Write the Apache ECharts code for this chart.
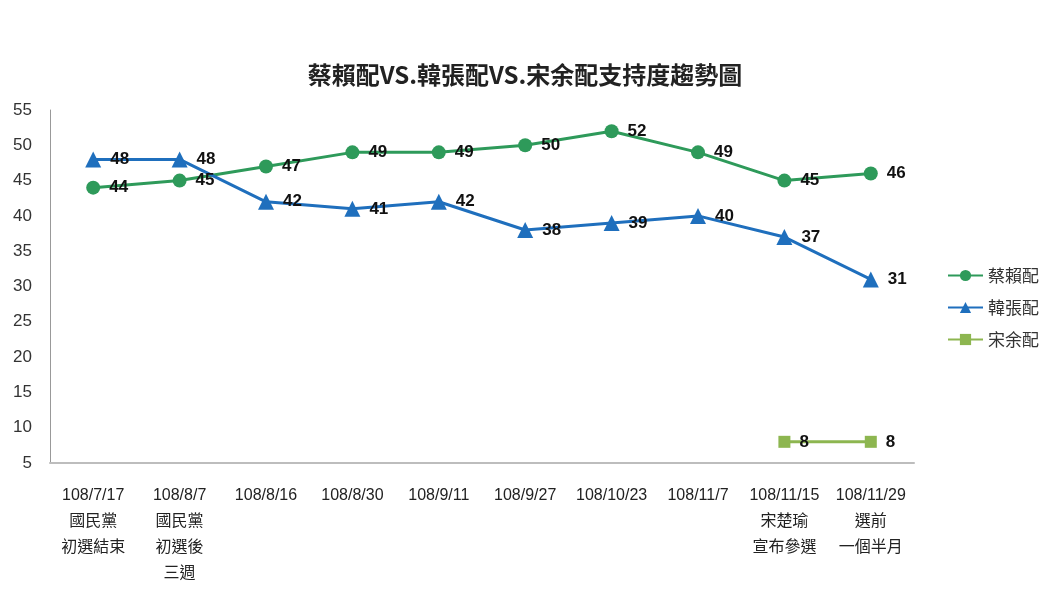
<!DOCTYPE html>
<html lang="zh-Hant">
<head>
    <meta charset="utf-8">
    <title>支持度趨勢圖</title>
    <script src="https://cdn.jsdelivr.net/npm/echarts@6/dist/echarts.min.js"></script>
    <style>
        html, body { margin: 0; padding: 0; background: #fff; }
        #trend { width: 1060px; height: 596px; }
    </style>
</head>
<body>
<div id="trend"></div>
<script type="text/javascript">
    // 調查日期與說明
    var categories = [
        '108/7/17\n國民黨\n初選結束',
        '108/8/7\n國民黨\n初選後\n三週',
        '108/8/16',
        '108/8/30',
        '108/9/11',
        '108/9/27',
        '108/10/23',
        '108/11/7',
        '108/11/15\n宋楚瑜\n宣布參選',
        '108/11/29\n選前\n一個半月'
    ];
    var tsaiLai = [44, 45, 47, 49, 49, 50, 52, 49, 45, 46];
    var hanChang = [48, 48, 42, 41, 42, 38, 39, 40, 37, 31];
    var soongYu = [null, null, null, null, null, null, null, null, 8, 8];
    var yTicks = { min: 5, max: 55, step: 5 };

    var latin = "'Liberation Sans', Arial, sans-serif";
    var cjk = "'Liberation Sans', 'Noto Sans CJK TC', sans-serif";

    var chart = echarts.init(document.getElementById('trend'));

    function makeSerie(name, data, color, symbol, size) {
        return {
            name: name,
            type: 'line',
            data: data,
            symbol: symbol,
            symbolSize: size,
            connectNulls: false,
            lineStyle: { color: color, width: 3 },
            itemStyle: { color: color },
            label: {
                show: true,
                position: 'right',
                distance: 9,
                color: '#111',
                fontWeight: 'bold',
                fontSize: 17,
                fontFamily: latin
            }
        };
    }

    var option = {
        animation: false,
        backgroundColor: '#fff',
        title: {
            text: '蔡賴配VS.韓張配VS.宋余配支持度趨勢圖',
            left: 520,
            top: 58,
            textAlign: 'center',
            textStyle: {
                fontSize: 24,
                fontWeight: 'bold',
                color: '#222',
                fontFamily: "'Noto Sans CJK TC', sans-serif"
            }
        },
        legend: {
            orient: 'vertical',
            left: 942,
            top: 262,
            itemGap: 15,
            itemWidth: 35,
            itemHeight: 14,
            textStyle: {
                fontSize: 17,
                color: '#333',
                fontFamily: "'Noto Sans CJK TC', sans-serif"
            },
            data: ['蔡賴配', '韓張配', '宋余配']
        },
        grid: {
            left: 50,
            right: 146,
            top: 110,
            bottom: 133
        },
        xAxis: {
            type: 'category',
            boundaryGap: true,
            data: categories,
            axisLine: { lineStyle: { color: '#bdbdbd', width: 2 } },
            axisTick: { show: false },
            axisLabel: {
                interval: 0,
                margin: 20,
                fontSize: 16,
                lineHeight: 26,
                color: '#222',
                fontFamily: cjk
            }
        },
        yAxis: {
            type: 'value',
            min: yTicks.min,
            max: yTicks.max,
            interval: yTicks.step,
            axisLine: { show: true, lineStyle: { color: '#999', width: 1 } },
            axisTick: { show: false },
            splitLine: { show: false },
            axisLabel: {
                margin: 18,
                fontSize: 17,
                color: '#333',
                fontFamily: latin
            }
        },
        series: [
            makeSerie('蔡賴配', tsaiLai, '#2e9a5a', 'circle', 14),
            makeSerie('韓張配', hanChang, '#1f6fbd', 'triangle', 16),
            makeSerie('宋余配', soongYu, '#8db650', 'rect', 12)
        ]
    };
    chart.setOption(option);
</script>
</body>
</html>
